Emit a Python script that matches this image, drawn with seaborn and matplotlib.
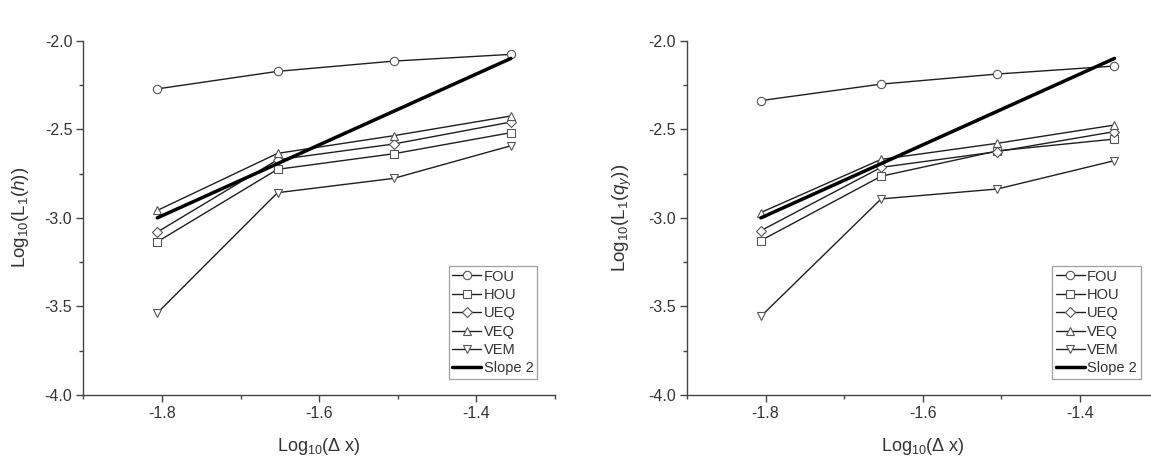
import matplotlib
matplotlib.use('Agg')
import matplotlib.pyplot as plt
import numpy as np
import pandas as pd
import seaborn as sns
from matplotlib.ticker import MultipleLocator

# grid sizes, log10(dx)
log_dx = [-1.806, -1.653, -1.505, -1.356]
schemes = ['FOU', 'HOU', 'UEQ', 'VEQ', 'VEM']

# log10(L1(h))
h_err = {
    'FOU': [-2.272, -2.173, -2.115, -2.077],
    'HOU': [-3.135, -2.726, -2.638, -2.519],
    'UEQ': [-3.080, -2.672, -2.583, -2.459],
    'VEQ': [-2.958, -2.636, -2.536, -2.425],
    'VEM': [-3.537, -2.858, -2.777, -2.593],
}
# log10(L1(q_y))
q_err = {
    'FOU': [-2.338, -2.245, -2.188, -2.143],
    'HOU': [-3.128, -2.765, -2.622, -2.555],
    'UEQ': [-3.072, -2.715, -2.626, -2.513],
    'VEQ': [-2.970, -2.670, -2.579, -2.476],
    'VEM': [-3.556, -2.893, -2.837, -2.677],
}
slope_x = [-1.806, -1.356]
slope_y = [-3.0, -2.1]

markers = {'FOU': 'o', 'HOU': 's', 'UEQ': 'D', 'VEQ': '^', 'VEM': 'v'}
msizes = {'FOU': 6.0, 'HOU': 5.5, 'UEQ': 4.8, 'VEQ': 6.0, 'VEM': 6.0}

sns.set_style('ticks')
plt.rcParams['font.family'] = ['Liberation Sans', 'DejaVu Sans']
plt.rcParams['mathtext.fontset'] = 'custom'
plt.rcParams['mathtext.rm'] = 'Liberation Sans'
plt.rcParams['mathtext.it'] = 'Liberation Sans:italic'

fig = plt.figure(figsize=(11.51, 4.59), dpi=100)
ax1 = fig.add_axes([0.0725, 0.1394, 0.4096, 0.7719])
ax2 = fig.add_axes([0.5969, 0.1394, 0.4096, 0.7719])


def draw(ax, err, ylabel):
    for s in schemes:
        df = pd.DataFrame({'x': log_dx, 'y': err[s]})
        sns.lineplot(data=df, x='x', y='y', ax=ax, color='#1f1f1f', linewidth=1.0,
                     marker=markers[s], markersize=msizes[s], markerfacecolor='white',
                     markeredgecolor='#555555', markeredgewidth=0.8, legend=False)
    sl = pd.DataFrame({'x': slope_x, 'y': slope_y})
    sns.lineplot(data=sl, x='x', y='y', ax=ax, color='black', linewidth=2.5, legend=False)

    ax.set_xlim(-1.9, -1.3)
    ax.set_ylim(-4.0, -2.0)
    ax.xaxis.set_minor_locator(MultipleLocator(0.1))
    ax.yaxis.set_minor_locator(MultipleLocator(0.25))
    ax.set_xticks([-1.8, -1.6, -1.4])
    ax.set_xticklabels(['-1.8', '-1.6', '-1.4'])
    ax.set_yticks([-4.0, -3.5, -3.0, -2.5, -2.0])
    ax.set_yticklabels(['-4.0', '-3.5', '-3.0', '-2.5', '-2.0'])
    ax.tick_params(which='major', direction='out', length=5, width=1, color='#444444',
                   labelsize=11.5, labelcolor='#333333', pad=3)
    ax.tick_params(which='minor', direction='out', length=3, width=1, color='#444444')
    for side in ['top', 'right']:
        ax.spines[side].set_visible(False)
    for side in ['left', 'bottom']:
        ax.spines[side].set_color('#444444')
        ax.spines[side].set_linewidth(1.0)

    ax.set_xlabel('Log$_{10}$(Δ x)', fontsize=13, color='#333333', labelpad=11)
    ax.set_ylabel(ylabel, fontsize=13.5, color='#333333', labelpad=10)

    leg = ax.legend(ax.lines, schemes + ['Slope 2'], loc='lower right',
                    bbox_to_anchor=(0.962, 0.045), borderaxespad=0, fontsize=10.5,
                    handlelength=2.0, handletextpad=0.15, labelspacing=0.3,
                    borderpad=0.25, fancybox=False, frameon=True)
    leg.get_frame().set_edgecolor('#888888')
    leg.get_frame().set_linewidth(0.9)
    for t in leg.get_texts():
        t.set_color('#333333')


draw(ax1, h_err, 'Log$_{10}$(L$_1$($h$))')
draw(ax2, q_err, 'Log$_{10}$(L$_1$($q_y$))')

fig.savefig('out.png', dpi=100)
